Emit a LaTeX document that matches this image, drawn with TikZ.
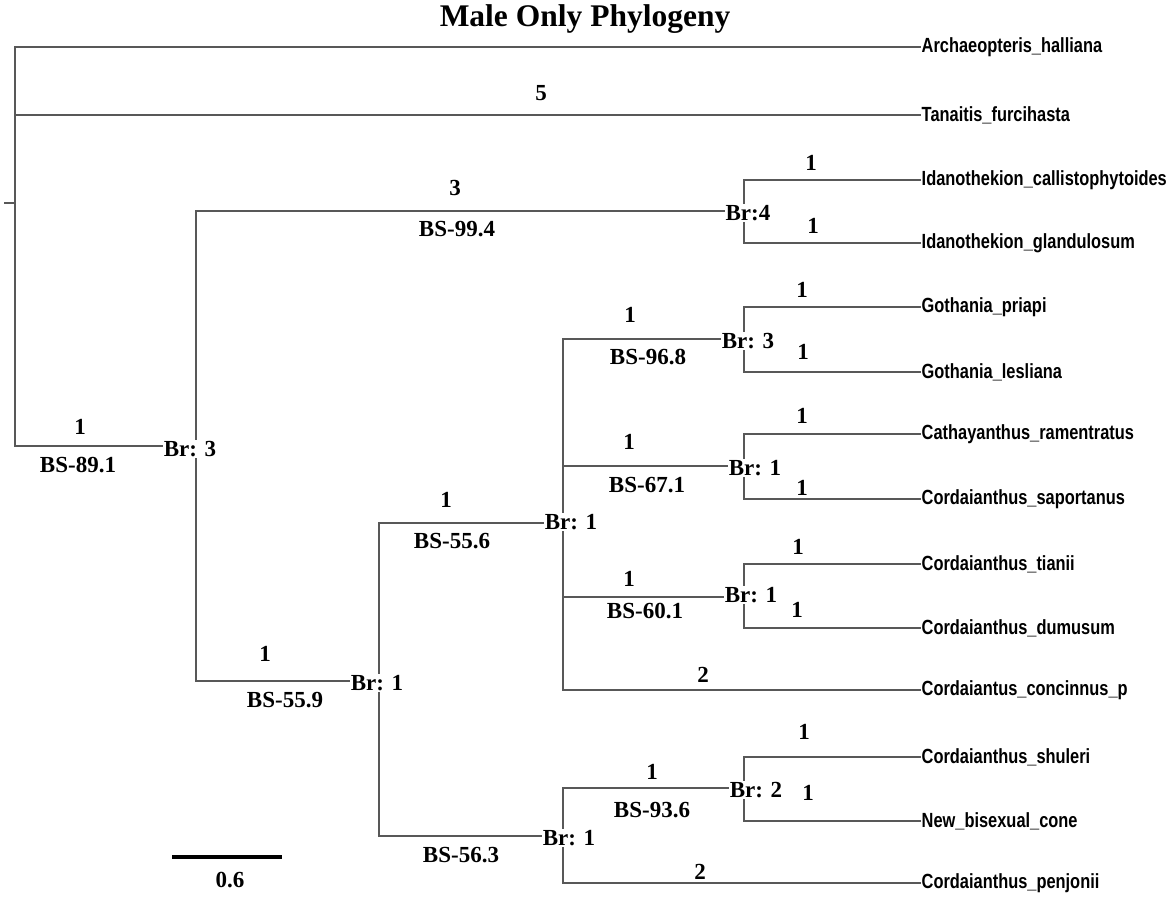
\documentclass[tikz,border=0pt]{standalone}
\usepackage{fontspec}
\usepackage{graphicx}
\setmainfont{Liberation Serif}
\newfontfamily\tipfamily{Liberation Sans}
\newcommand\tiplab[1]{\scalebox{0.8}[1]{#1}}
\definecolor{treegray}{HTML}{585858}
\begin{document}
\begin{tikzpicture}[x=1pt,y=-1pt,
  br/.style={draw=treegray,line width=2.4pt,line cap=rect},
  tip/.style={anchor=west,inner sep=1.5pt,font=\tipfamily\bfseries\fontsize{20.5}{22}\selectfont},
  lab/.style={inner sep=0pt,font=\bfseries\fontsize{23}{25}\selectfont},
  brlab/.style={fill=white,inner sep=1pt,font=\bfseries\fontsize{23}{25}\selectfont}]
\useasboundingbox (0,0) rectangle (1167,899);
% title
\node[font=\bfseries\fontsize{31.5}{34}\selectfont] (title) at (585,19) {Male Only Phylogeny};
% junctions
\coordinate (stub) at (5,203);
\coordinate (R) at (15,203);
\coordinate (N1) at (196,446);
\coordinate (N2) at (744,211);
\coordinate (N3) at (379,681);
\coordinate (N4) at (563,523);
\coordinate (N5) at (744,339);
\coordinate (N6) at (744,466);
\coordinate (N7) at (744,597);
\coordinate (N8) at (563,836);
\coordinate (N9) at (744,788);
% tips
\node[tip] (tA) at (920,47) {\tiplab{Archaeopteris\_halliana}};
\node[tip] (tT) at (920,115) {\tiplab{Tanaitis\_furcihasta}};
\node[tip] (tI1) at (920,180) {\tiplab{Idanothekion\_callistophytoides}};
\node[tip] (tI2) at (920,243) {\tiplab{Idanothekion\_glandulosum}};
\node[tip] (tG1) at (920,307) {\tiplab{Gothania\_priapi}};
\node[tip] (tG2) at (920,372) {\tiplab{Gothania\_lesliana}};
\node[tip] (tC1) at (920,434) {\tiplab{Cathayanthus\_ramentratus}};
\node[tip] (tC2) at (920,499) {\tiplab{Cordaianthus\_saportanus}};
\node[tip] (tC3) at (920,564) {\tiplab{Cordaianthus\_tianii}};
\node[tip] (tC4) at (920,628) {\tiplab{Cordaianthus\_dumusum}};
\node[tip] (tC5) at (920,690) {\tiplab{Cordaiantus\_concinnus\_p}};
\node[tip] (tC6) at (920,757) {\tiplab{Cordaianthus\_shuleri}};
\node[tip] (tC7) at (920,821) {\tiplab{New\_bisexual\_cone}};
\node[tip] (tC8) at (920,883) {\tiplab{Cordaianthus\_penjonii}};
% branches
\draw[br] (stub) -- (R);
\draw[br] (R) |- (tA.west);
\draw[br] (R) |- (tT.west);
\draw[br] (R) |- (N1);
\draw[br] (N1) |- (N2);
\draw[br] (N2) |- (tI1.west);
\draw[br] (N2) |- (tI2.west);
\draw[br] (N1) |- (N3);
\draw[br] (N3) |- (N4);
\draw[br] (N4) |- (N5);
\draw[br] (N5) |- (tG1.west);
\draw[br] (N5) |- (tG2.west);
\draw[br] (N4) |- (N6);
\draw[br] (N6) |- (tC1.west);
\draw[br] (N6) |- (tC2.west);
\draw[br] (N4) |- (N7);
\draw[br] (N7) |- (tC3.west);
\draw[br] (N7) |- (tC4.west);
\draw[br] (N4) |- (tC5.west);
\draw[br] (N3) |- (N8);
\draw[br] (N8) |- (N9);
\draw[br] (N9) |- (tC6.west);
\draw[br] (N9) |- (tC7.west);
\draw[br] (N8) |- (tC8.west);
% Br labels
\node[brlab] (b1) at (190,449) {Br: 3};
\node[brlab] (b2) at (748,213) {Br:4};
\node[brlab] (b3) at (377,683) {Br: 1};
\node[brlab] (b4) at (571,522) {Br: 1};
\node[brlab] (b5) at (748,341) {Br: 3};
\node[brlab] (b6) at (755,468) {Br: 1};
\node[brlab] (b7) at (751,595) {Br: 1};
\node[brlab] (b8) at (569,838) {Br: 1};
\node[brlab] (b9) at (756,790) {Br: 2};
% branch lengths and support
\node[lab] (l1) at (541,93) {5};
\node[lab] (l2) at (80,427) {1};
\node[lab] (s2) at (78,465) {BS-89.1};
\node[lab] (l3) at (455,188) {3};
\node[lab] (s3) at (457,229) {BS-99.4};
\node[lab] (l4) at (811,163) {1};
\node[lab] (l5) at (813,226) {1};
\node[lab] (l6) at (265,654) {1};
\node[lab] (s6) at (285,700) {BS-55.9};
\node[lab] (l7) at (446,500) {1};
\node[lab] (s7) at (452,541) {BS-55.6};
\node[lab] (l8) at (630,315) {1};
\node[lab] (s8) at (648,357) {BS-96.8};
\node[lab] (l9) at (802,290) {1};
\node[lab] (l10) at (803,352) {1};
\node[lab] (l11) at (629,442) {1};
\node[lab] (s11) at (647,485) {BS-67.1};
\node[lab] (l12) at (802,416) {1};
\node[lab] (l13) at (802,488) {1};
\node[lab] (l14) at (629,579) {1};
\node[lab] (s14) at (645,611) {BS-60.1};
\node[lab] (l15) at (798,547) {1};
\node[lab] (l16) at (797,610) {1};
\node[lab] (l17) at (703,675) {2};
\node[lab] (l18) at (652,772) {1};
\node[lab] (s18) at (652,810) {BS-93.6};
\node[lab] (l19) at (804,732) {1};
\node[lab] (l20) at (808,793) {1};
\node[lab] (s21) at (461,855) {BS-56.3};
\node[lab] (l22) at (700,872) {2};
% scale bar
\coordinate (sb1) at (172,857);
\coordinate (sb2) at (282,857);
\draw[line width=4pt,black] (sb1) -- (sb2);
\node[lab] (sbl) at (230,880) {0.6};
\end{tikzpicture}
\end{document}
